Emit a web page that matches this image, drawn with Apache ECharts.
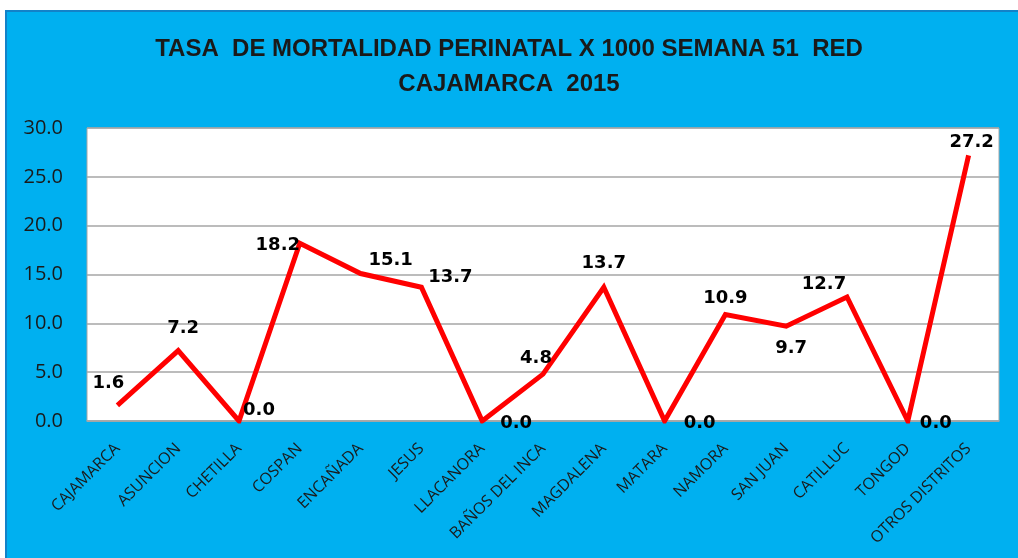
<!DOCTYPE html>
<html>
<head>
<meta charset="utf-8">
<script src="https://cdn.jsdelivr.net/npm/echarts@6/dist/echarts.min.js"></script>
<style>
  html, body { margin: 0; padding: 0; background: #ffffff; }
  #frame {
    position: absolute; left: 5px; top: 10px; width: 1013px; height: 548px;
    background: #00B0F0; border-left: 2px solid #1382c8; border-top: 2px solid #1382c8;
    box-sizing: border-box;
  }
  #chart { position: absolute; left: 0; top: 0; width: 1018px; height: 558px; }
</style>
</head>
<body>
<div id="frame"></div>
<div id="chart"></div>
<script>
// Districts of the Cajamarca health network
const categories = [
  'CAJAMARCA', 'ASUNCION', 'CHETILLA', 'COSPAN', 'ENCAÑADA', 'JESUS', 'LLACANORA',
  'BAÑOS DEL INCA', 'MAGDALENA', 'MATARA', 'NAMORA', 'SAN JUAN', 'CATILLUC', 'TONGOD',
  'OTROS DISTRITOS'
];
// Perinatal mortality rate per 1000, week 51
const rates = [1.6, 7.2, 0.0, 18.2, 15.1, 13.7, 0.0, 4.8, 13.7, 0.0, 10.9, 9.7, 12.7, 0.0, 27.2];
const yTicks = [0, 5, 10, 15, 20, 25, 30];

// where each value label sits relative to its point: [dx, dy]
const labelOffsets = [
  [-9, -22], [5, -22], [20, -11], [-22, 2], [30, -13], [29, -10], [34, 2],
  [-7, -16], [0, -24], [35, 2], [0, -16], [5, 22], [-23, -13], [28, 2], [3, -13]
];

const chart = echarts.init(document.getElementById('chart'), null, { renderer: 'canvas' });

const points = rates.map((v, i) => ({
  value: v,
  label: { offset: labelOffsets[i] }
}));

chart.setOption({
  animation: false,
  title: {
    text: 'TASA  DE MORTALIDAD PERINATAL X 1000 SEMANA 51  RED\nCAJAMARCA  2015',
    left: 'center',
    top: 27,
    textStyle: {
      fontFamily: 'Liberation Sans, Arial',
      fontWeight: 'bold',
      fontSize: 24,
      lineHeight: 35,
      color: '#1a1a1a'
    }
  },
  grid: {
    left: 87, right: 19, top: 128, bottom: 137,
    show: true, backgroundColor: '#ffffff', borderColor: '#a6a6a6', borderWidth: 1
  },
  xAxis: {
    type: 'category',
    data: categories,
    boundaryGap: true,
    axisLine: { lineStyle: { color: '#a6a6a6', width: 1.5 } },
    axisTick: { show: false },
    axisLabel: {
      interval: 0, rotate: 45, margin: 25,
      fontFamily: 'Open Sans, Noto Sans, sans-serif', fontSize: 16, color: '#1a1a1a'
    }
  },
  yAxis: {
    type: 'value',
    min: yTicks[0], max: yTicks[yTicks.length - 1], interval: 5,
    axisLine: { show: false },
    axisTick: { show: false },
    splitLine: { lineStyle: { color: '#a6a6a6', width: 1.5 } },
    axisLabel: {
      margin: 24,
      formatter: v => v.toFixed(1),
      fontFamily: 'Open Sans, Noto Sans, sans-serif', fontSize: 20, color: '#1a1a1a'
    }
  },
  series: [{
    type: 'line',
    data: points,
    symbol: 'circle',
    symbolSize: 0,
    showSymbol: true,
    lineStyle: { color: '#ff0000', width: 5, join: 'miter' },
    itemStyle: { color: '#ff0000' },
    label: {
      show: true,
      position: 'inside',
      formatter: p => p.value.toFixed(1),
      fontFamily: 'DejaVu Sans, sans-serif',
      fontWeight: 'bold',
      fontSize: 18,
      color: '#000'
    }
  }]
});
</script>
</body>
</html>
